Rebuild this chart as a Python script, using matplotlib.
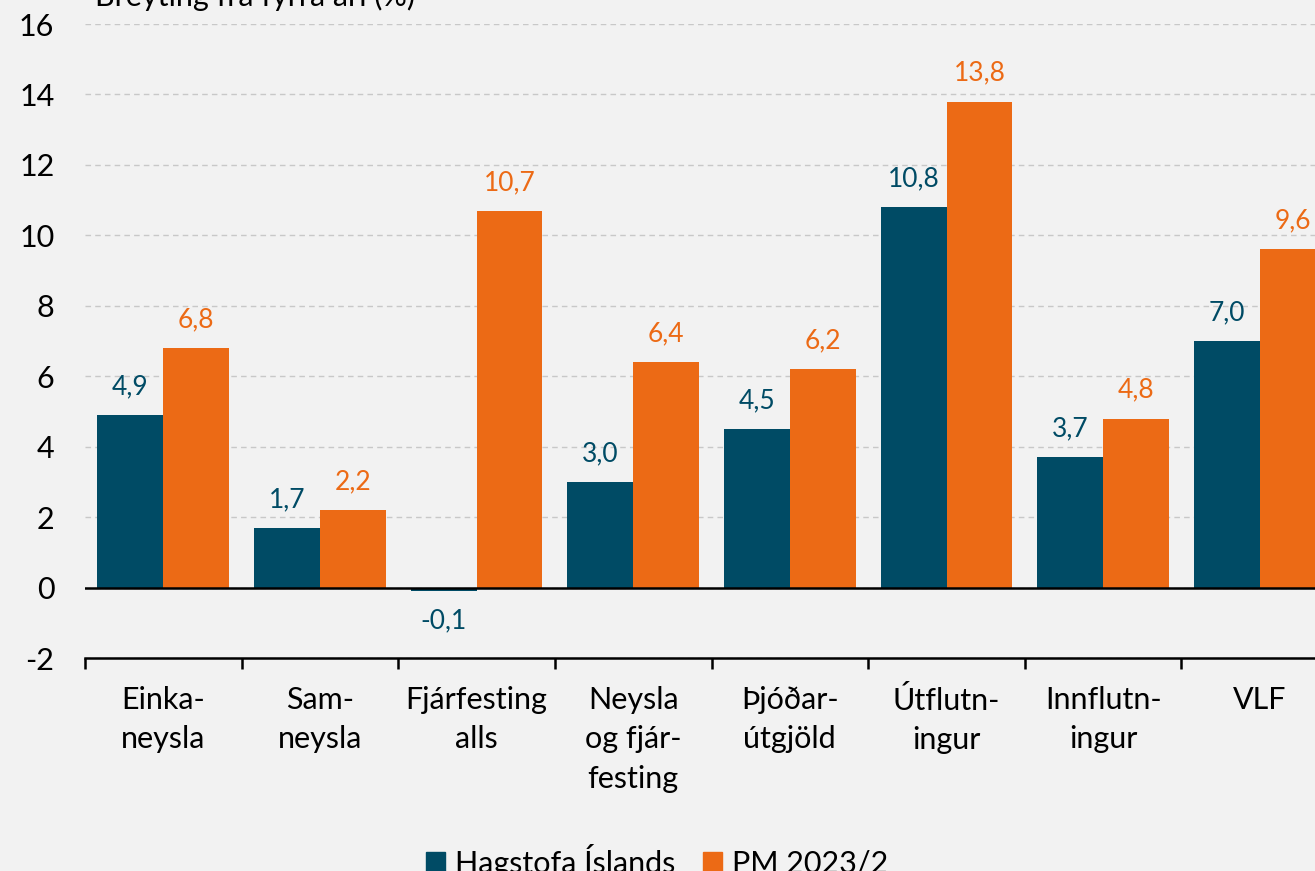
import numpy as np
import matplotlib
matplotlib.use("Agg")
import matplotlib.pyplot as plt
from matplotlib.patches import Patch

#%% data
categories = ["Einka-\nneysla", "Sam-\nneysla", "Fjárfesting\nalls", "Neysla\nog fjár-\nfesting",
              "Þjóðar-\nútgjöld", "Útflutn-\ningur", "Innflutn-\ningur", "VLF"]
hagstofa = [4.9, 1.7, -0.1, 3.0, 4.5, 10.8, 3.7, 7.0]
pm = [6.8, 2.2, 10.7, 6.4, 6.2, 13.8, 4.8, 9.6]
series_names = ["Hagstofa Íslands", "PM 2023/2"]

dark = "#004b65"
orange = "#ec6a15"
bg = "#f2f2f2"

plt.rcParams["font.family"] = ["Lato", "DejaVu Sans"]
plt.rcParams["axes.unicode_minus"] = False

#%% plot
fig = plt.figure(figsize=(13.15, 8.71), dpi=100, facecolor=bg)
ax = fig.add_axes([0.0646, 0.2445, 0.953, 0.7279])
ax.set_facecolor(bg)

x = np.arange(len(categories))
w = 0.42
ax.bar(x - w/2, hagstofa, w, color=dark, zorder=3)
ax.bar(x + w/2, pm, w, color=orange, zorder=3)

def fmt(v):
    return "{:.1f}".format(v).replace(".", ",")

for xi, v in zip(x - w/2, hagstofa):
    if v >= 0:
        ax.text(xi, v + 0.45, fmt(v), ha="center", va="bottom", color=dark, fontsize=19)
    else:
        ax.text(xi, v - 0.5, fmt(v), ha="center", va="top", color=dark, fontsize=19)
for xi, v in zip(x + w/2, pm):
    ax.text(xi, v + 0.45, fmt(v), ha="center", va="bottom", color=orange, fontsize=19)

ax.set_xlim(-0.5, len(categories) - 0.5)
ax.set_ylim(-2, 16)
ax.set_yticks(np.arange(-2, 17, 2))
ax.yaxis.grid(True, linestyle=(0, (4, 3)), color="#c8c8c8", linewidth=1, zorder=0)
ax.axhline(0, color="black", linewidth=1.8, zorder=4)

for s in ["top", "right", "left"]:
    ax.spines[s].set_visible(False)
ax.spines["bottom"].set_linewidth(1.8)

ax.set_xticks(np.arange(-0.5, len(categories), 1))
ax.set_xticklabels([])
ax.tick_params(axis="x", which="major", length=8, width=1.8, direction="out")
ax.set_xticks(x, minor=True)
ax.set_xticklabels(categories, minor=True, fontsize=22, linespacing=1.5)
ax.tick_params(axis="x", which="minor", length=0, pad=20)
ax.tick_params(axis="y", length=0, labelsize=22, pad=22)

fig.text(0.072, 0.993, "Breyting frá fyrra ári (%)", fontsize=22, va="baseline", ha="left")

handles = [Patch(color=dark), Patch(color=orange)]
fig.legend(handles, series_names, loc="center", bbox_to_anchor=(0.5, 0.012), ncol=2,
           frameon=False, fontsize=22, handlelength=0.6, handleheight=0.6,
           handletextpad=0.35, columnspacing=0.9)

plt.savefig("out.png", dpi=100, facecolor=bg)
